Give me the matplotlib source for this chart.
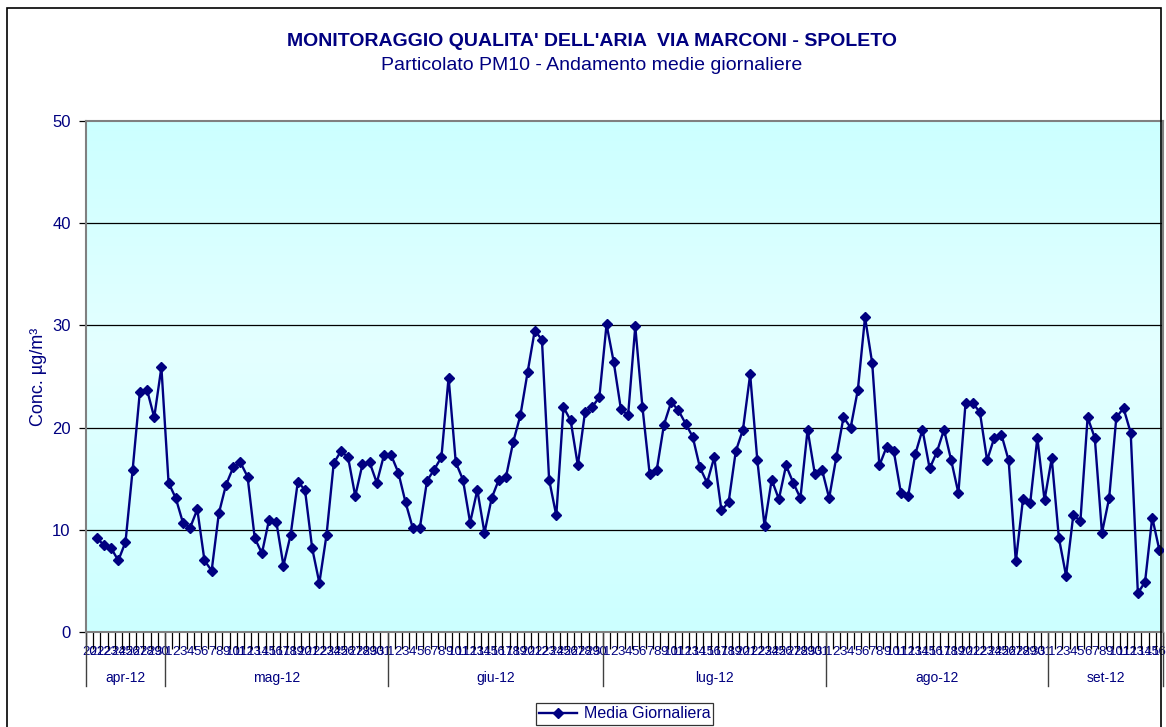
import numpy as np
import matplotlib
matplotlib.use("Agg")
import matplotlib.pyplot as plt
from matplotlib.colors import LinearSegmentedColormap
from matplotlib.patches import Rectangle
from matplotlib.lines import Line2D

plt.rcParams['font.family'] = ['Liberation Sans', 'DejaVu Sans']

# --- data (daily PM10 means, 20 apr - 16 set 2012) ---
months = ["apr-12", "mag-12", "giu-12", "lug-12", "ago-12", "set-12"]
month_days = [list(range(20, 31)), list(range(1, 32)), list(range(1, 31)),
              list(range(1, 32)), list(range(1, 32)), list(range(1, 17))]

apr = [np.nan, 9.2, 8.5, 8.2, 7.0, 8.8, 15.9, 23.5, 23.7, 21.0, 25.9]
mag = [14.6, 13.1, 10.7, 10.2, 12.0, 7.0, 6.0, 11.6, 14.4, 16.1, 16.6, 15.2, 9.2,
       7.7, 11.0, 10.8, 6.5, 9.5, 14.7, 13.9, 8.2, 4.8, 9.5, 16.5, 17.7, 17.1, 13.3,
       16.4, 16.6, 14.6, 17.3]
giu = [17.3, 15.6, 12.7, 10.2, 10.2, 14.8, 15.9, 17.1, 24.9, 16.6, 14.9, 10.7, 13.9,
       9.7, 13.1, 14.9, 15.2, 18.6, 21.2, 25.4, 29.5, 28.6, 14.9, 11.4, 22.0, 20.7,
       16.3, 21.5, 22.0, 23.0]
lug = [30.1, 26.4, 21.8, 21.2, 29.9, 22.0, 15.5, 15.9, 20.3, 22.5, 21.7, 20.4, 19.1,
       16.1, 14.6, 17.1, 11.9, 12.7, 17.7, 19.8, 25.2, 16.8, 10.4, 14.9, 13.0, 16.3,
       14.6, 13.1, 19.8, 15.5, 15.9]
ago = [13.1, 17.1, 21.0, 20.0, 23.7, 30.8, 26.3, 16.3, 18.1, 17.7, 13.6, 13.3, 17.4,
       19.8, 16.0, 17.6, 19.8, 16.8, 13.6, 22.4, 22.4, 21.5, 16.8, 19.0, 19.3, 16.8,
       6.9, 13.0, 12.6, 19.0, 12.9]
set_ = [17.0, 9.2, 5.5, 11.4, 10.9, 21.0, 19.0, 9.7, 13.1, 21.0, 21.9, 19.5, 3.8,
        4.9, 11.2, 8.0]

values = np.array(apr + mag + giu + lug + ago + set_, dtype=float)
day_labels = [str(d) for days in month_days for d in days]

NAVY = '#000080'
W, H = 1166, 727

fig = plt.figure(figsize=(W / 100, H / 100), dpi=100)
fig.patch.set_facecolor('white')

# outer chart frame
fig.patches.append(Rectangle((7 / W, -0.01), (1161 - 7) / W, 1 - 8 / H + 0.01,
                             transform=fig.transFigure, fill=False,
                             edgecolor='black', lw=1.2))

# plot area in pixels
L, R, T, B = 86, 1163, 121, 632
ax = fig.add_axes([L / W, (H - B) / H, (R - L) / W, (B - T) / H])

n = len(values)
x = np.arange(n)
ax.set_xlim(-0.5, n - 0.5)
ax.set_ylim(0, 50)

# gradient background
cmap = LinearSegmentedColormap.from_list(
    'bg', [(0, '#CCFFFF'), (0.55, '#E4FFFF'), (1.0, '#CCFFFF')])
grad = np.linspace(0, 1, 256).reshape(-1, 1)
ax.imshow(grad, cmap=cmap, aspect='auto', extent=[0, 1, 0, 1],
          transform=ax.transAxes, origin='lower', zorder=0)

for v in [10, 20, 30, 40]:
    ax.axhline(v, color='black', lw=0.9, zorder=1)

ax.plot(x, values, color=NAVY, lw=1.7, marker='D', markersize=5.3,
        markerfacecolor=NAVY, markeredgecolor=NAVY, zorder=3)

for s in ax.spines.values():
    s.set_color('#808080')
    s.set_linewidth(1.5)

# y axis
ax.set_yticks(np.arange(0, 51, 10))
ax.tick_params(axis='y', colors='black', labelcolor=NAVY, labelsize=12,
               length=5, width=0.9, direction='out', pad=6)
ax.set_ylabel('Conc. µg/m³', color=NAVY, fontsize=13)
ax.yaxis.set_label_coords((47 - L) / (R - L), 0.5)

# x axis: ticks between categories, day labels at centers
ax.set_xticks(np.arange(-0.5, n, 1.0), minor=True)
ax.set_xticks(x)
ax.set_xticklabels(day_labels)
ax.tick_params(axis='x', which='major', length=0, labelsize=9.5,
               labelcolor=NAVY, pad=10)
ax.tick_params(axis='x', which='minor', length=12, width=0.9, color='black')

# month group separators and labels
bounds = np.cumsum([0] + [len(d) for d in month_days]) - 0.5
tr = ax.get_xaxis_transform()
for b in bounds:
    ax.plot([b, b], [0, -54 / (B - T)], color='#404040', lw=1.0,
            transform=tr, clip_on=False)
for i, m in enumerate(months):
    ax.text((bounds[i] + bounds[i + 1]) / 2, -46 / (B - T), m, transform=tr,
            ha='center', va='center', color=NAVY, fontsize=10)

# titles
fig.text(592 / W, 1 - 41 / H, "MONITORAGGIO QUALITA' DELL'ARIA  VIA MARCONI - SPOLETO",
         ha='center', va='center', fontsize=14, fontweight='bold', color=NAVY)
fig.text(592 / W, 1 - 65 / H, "Particolato PM10 - Andamento medie giornaliere",
         ha='center', va='center', fontsize=14, color=NAVY)

# legend
handle = Line2D([], [], color=NAVY, lw=1.7, marker='D', markersize=5.3)
leg = fig.legend([handle], ['Media Giornaliera'], loc='center',
                 bbox_to_anchor=(624.5 / W, 1 - 714 / H), frameon=True,
                 fancybox=False, shadow=False, fontsize=11.5, handlelength=2.4,
                 borderpad=0.2, handletextpad=0.4, borderaxespad=0)
leg.get_frame().set_edgecolor('black')
leg.get_frame().set_linewidth(0.9)
for t in leg.get_texts():
    t.set_color(NAVY)

fig.savefig('out.png', dpi=100)
